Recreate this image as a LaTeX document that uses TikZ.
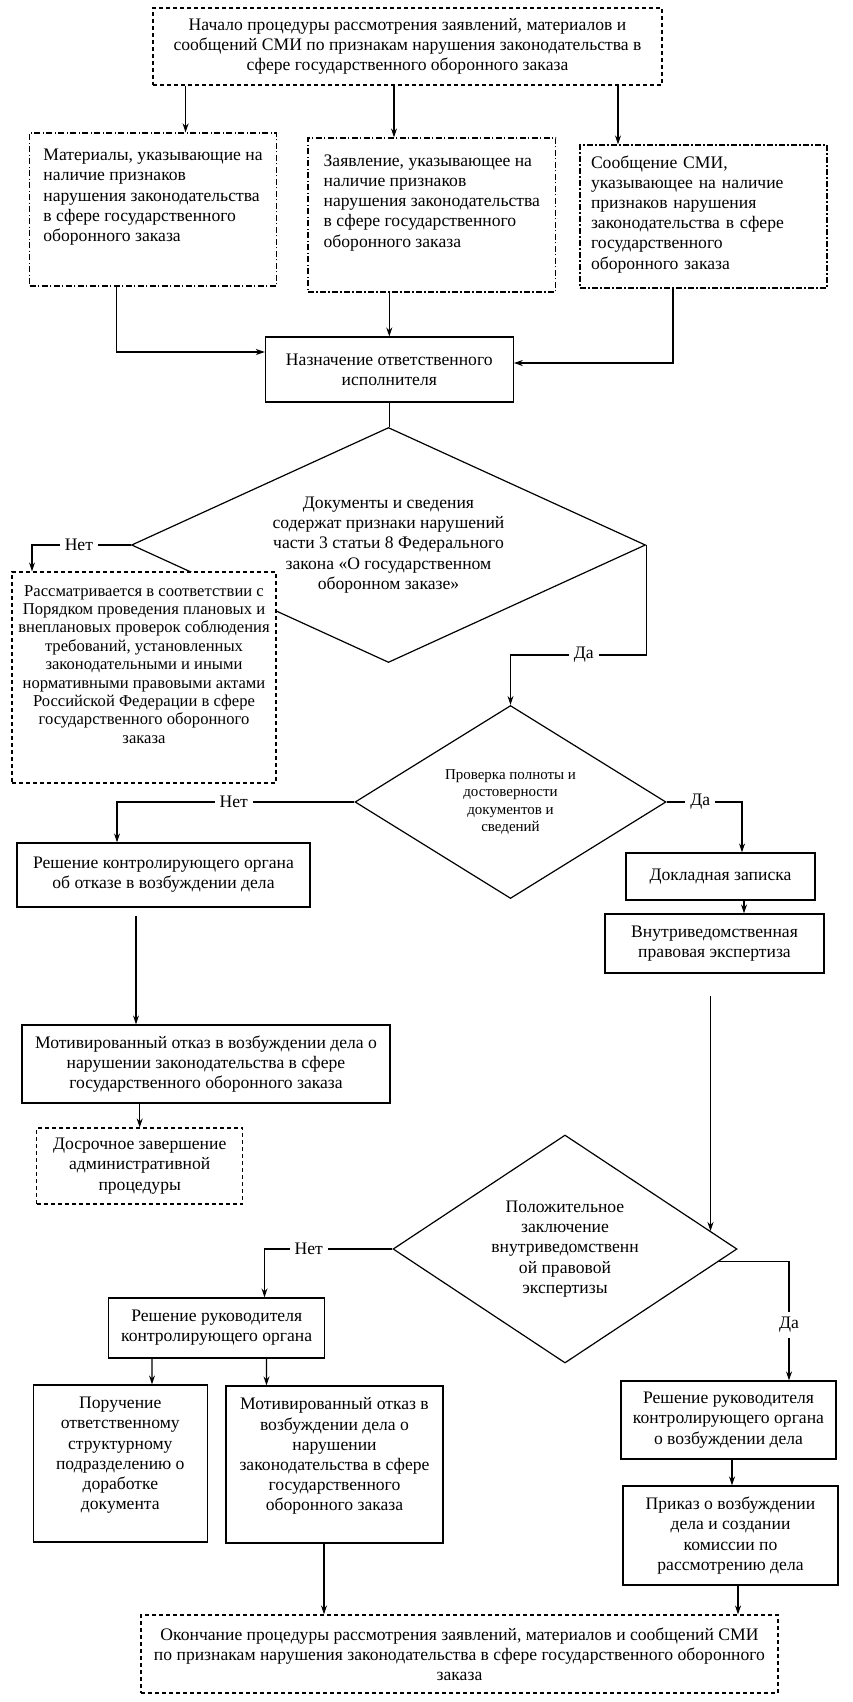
\documentclass[tikz,border=0pt]{standalone}
\usepackage{fontspec}
\setmainfont{Liberation Serif}
\usepackage{tikz}
\usetikzlibrary{shapes.geometric, arrows.meta, positioning, calc}
\tikzstyle{box} = [rectangle, draw=black, line width=0.6pt, inner sep=3pt, align=center]
\tikzstyle{dashbox} = [box, dash pattern=on 2pt off 1.5pt]
\tikzstyle{dotbox} = [box, align=left, dash pattern=on 3pt off 1.2pt on 0.6pt off 1.2pt]
\tikzstyle{decision} = [diamond, draw=black, line width=0.6pt, inner sep=0pt, align=center]
\tikzstyle{arrow} = [line width=0.6pt, ->, >={Stealth[length=4.5pt, width=3pt]}]
\tikzstyle{link} = [line width=0.6pt]
\tikzstyle{answer} = [fill=white, inner sep=2.5pt]

\begin{document}
\begin{tikzpicture}[x=0.5pt, y=-0.5pt, every node/.style={font=\fontsize{8.8}{10.1}\selectfont}]
  \fill[white] (0,0) rectangle (852,1702);
  \useasboundingbox (0,0) rectangle (852,1702);

  \node[dashbox, minimum width=254.5pt, minimum height=38.5pt] (start) at (407.5,46.5) {Начало процедуры рассмотрения заявлений, материалов и\\сообщений СМИ по признакам нарушения законодательства в\\сфере государственного оборонного заказа};
  \node[dotbox, minimum width=123.4pt, minimum height=76.5pt] (mat) at (153,209.5) {Материалы, указывающие на\\наличие признаков\\нарушения законодательства\\в сфере государственного\\оборонного заказа\\[4pt]~};
  \node[dotbox, minimum width=123.9pt, minimum height=77pt] (claim) at (431.8,215) {Заявление, указывающее на\\наличие признаков\\нарушения законодательства\\в сфере государственного\\оборонного заказа\\[4pt]~};
  \node[dotbox, text width=112.5pt, inner xsep=5.5pt, minimum height=71.5pt] (media) at (703.5,216.5) {Сообщение СМИ,\\указывающее на наличие\\признаков нарушения\\законодательства в сфере\\государственного\\оборонного заказа\\[-6pt]~};
  \node[box, minimum width=123.9pt, minimum height=32.5pt] (assign) at (389.3,369.5) {Назначение ответственного\\исполнителя};
  \node[decision, aspect=2.2, minimum width=257pt, minimum height=117.5pt] (check) at (388.5,545) {Документы и сведения\\содержат признаки нарушений\\части 3 статьи 8 Федерального\\закона «О государственном\\оборонном заказе»};
  \node[dashbox, fill=white, minimum width=132pt, minimum height=105.5pt, font=\fontsize{8.3}{9.2}\selectfont] (review) at (144,677.5) {Рассматривается в соответствии с\\Порядком проведения плановых и\\внеплановых проверок соблюдения\\требований, установленных\\законодательными и иными\\нормативными правовыми актами\\Российской Федерации в сфере\\государственного оборонного\\заказа\\[4pt]~};
  \node[decision, aspect=1.63, minimum width=155.5pt, minimum height=96.5pt, font=\fontsize{7.5}{8.7}\selectfont] (verify) at (510.5,802) {Проверка полноты и\\достоверности\\документов и\\сведений};
  \node[box, minimum width=146.5pt, minimum height=32pt] (refuse) at (163.5,875) {Решение контролирующего органа\\об отказе в возбуждении дела};
  \node[box, minimum width=94.5pt, minimum height=23.5pt] (memo) at (720.5,876.5) {Докладная записка};
  \node[box, minimum width=109.5pt, minimum height=29.5pt] (expert) at (714.5,943.5) {Внутриведомственная\\правовая экспертиза};
  \node[box, minimum width=184pt, minimum height=39pt] (motiv) at (206,1064) {Мотивированный отказ в возбуждении дела о\\нарушении законодательства в сфере\\государственного оборонного заказа};
  \node[dashbox, minimum width=103pt, minimum height=38pt] (early) at (139.7,1166) {Досрочное завершение\\административной\\процедуры};
  \node[decision, aspect=1.52, minimum width=172pt, minimum height=114pt] (positive) at (565,1249) {Положительное\\заключение\\внутриведомственн\\ой правовой\\экспертизы};
  \node[box, minimum width=108pt, minimum height=30pt] (head) at (216.7,1328) {Решение руководителя\\контролирующего органа};
  \node[box, minimum width=86.8pt, minimum height=78.5pt] (rework) at (120.3,1463.5) {Поручение\\ответственному\\структурному\\подразделению о\\доработке\\документа\\~};
  \node[box, minimum width=108.5pt, minimum height=78.5pt] (motivtwo) at (334.5,1464.5) {Мотивированный отказ в\\возбуждении дела о\\нарушении\\законодательства в сфере\\государственного\\оборонного заказа\\~};
  \node[box, minimum width=107.5pt, minimum height=39pt] (open) at (728.5,1420) {Решение руководителя\\контролирующего органа\\о возбуждении дела};
  \node[box, minimum width=107.5pt, minimum height=49.5pt] (decree) at (730.5,1535.5) {Приказ о возбуждении\\дела и создании\\комиссии по\\рассмотрению дела};
  \node[dashbox, minimum width=318.5pt, minimum height=39pt] (finish) at (459.5,1654) {Окончание процедуры рассмотрения заявлений, материалов и сообщений СМИ\\по признакам нарушения законодательства в сфере государственного оборонного\\заказа};

  % from the start to the three sources
  \coordinate (toMat) at ($(mat.north)+(32.6,0)$);
  \coordinate (toClaim) at ($(claim.north)+(-37.8,0)$);
  \coordinate (toMedia) at ($(media.north)+(-85.5,0)$);
  \draw[arrow] (start.south -| toMat) -- (toMat);
  \draw[arrow] (start.south -| toClaim) -- (toClaim);
  \draw[arrow] (start.south -| toMedia) -- (toMedia);

  \draw[arrow] ($(mat.south)+(-36.5,0)$) |- ($(assign.west)+(0,-17.5)$);
  \draw[arrow] (claim.south -| assign.north) -- (assign.north);
  \draw[arrow] ($(media.south)+(-30.5,0)$) |- ($(assign.east)+(0,-6.5)$);
  \draw[link] (assign.south) -- (assign.south |- check.north);

  % first decision
  \coordinate (toReview) at ($(review.north)+(-112,0)$);
  \draw[arrow] (check.west) -| node[answer, pos=0.263] {Нет} (toReview);
  \coordinate (bendYes) at ($(verify.north)+(0,-50)$);
  \draw[arrow] (check.east) |- node[answer, pos=0.73] {Да} (bendYes) -- (verify.north);

  % second decision
  \coordinate (toRefuse) at ($(refuse.north)+(-46.5,0)$);
  \draw[arrow] (verify.west) -| node[answer, pos=0.254] {Нет} (toRefuse);
  \coordinate (toMemo) at ($(memo.north)+(21.5,0)$);
  \draw[arrow] (verify.east) -| node[answer, pos=0.224] {Да} (toMemo);
  \draw[arrow] ($(memo.south)+(23.5,0)$) -- ($(expert.north)+(29.5,0)$);
  \draw[arrow, shorten <=4pt] ($(refuse.south)+(-27.5,0)$) -- ($(motiv.north)+(-70,0)$);
  \draw[arrow] (motiv.south -| early.north) -- (early.north);
  \coordinate (intoPositive) at ($(positive.north)!0.843!(positive.east)$);
  \draw[arrow, shorten <=11pt] (expert.south -| intoPositive) -- (intoPositive);

  % third decision
  \coordinate (toHead) at ($(head.north)+(47.8,0)$);
  \draw[arrow] (positive.west) -| node[answer, pos=0.327] {Нет} (toHead);
  \coordinate (fromPositive) at ($(positive.east)!0.11!(positive.south)$);
  \coordinate (toOpen) at ($(open.north)+(60.5,0)$);
  \draw[arrow] (fromPositive) -| node[answer, pos=0.767] {Да} (toOpen);
  \draw[arrow] ($(head.south)+(-64.7,0)$) -- ($(rework.north)+(31.7,0)$);
  \draw[arrow] ($(head.south)+(49.8,0)$) -- ($(motivtwo.north)+(-68,0)$);
  \draw[arrow] ($(open.south)+(3.5,0)$) -- ($(decree.north)+(1.5,0)$);

  % to the end
  \draw[arrow] ($(decree.south)+(7.5,0)$) -- ($(finish.north)+(278.5,0)$);
  \draw[arrow] ($(motivtwo.south)+(-10.5,0)$) -- ($(finish.north)+(-135.5,0)$);
\end{tikzpicture}
\end{document}
